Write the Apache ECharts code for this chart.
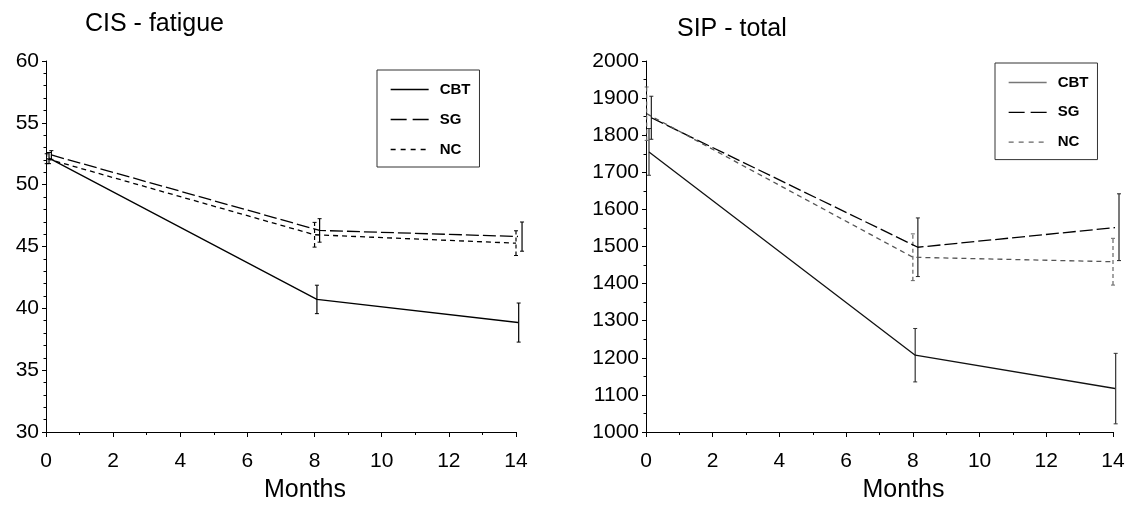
<!DOCTYPE html>
<html>
<head>
<meta charset="utf-8">
<script src="https://cdn.jsdelivr.net/npm/echarts@6/dist/echarts.min.js"></script>
<style>
  html, body { margin: 0; padding: 0; background: #fff; }
  #main { width: 1128px; height: 508px; }
</style>
</head>
<body>
<div id="main"></div>
<script>
// months of each measurement, every group drawn a little to the right of the previous one
var monthsNC = [0.02, 8.0, 14.0];
var monthsCBT = [0.09, 8.07, 14.08];
var monthsSG = [0.16, 8.15, 14.18];

var xTicks = [0, 2, 4, 6, 8, 10, 12, 14];
var cisTicks = [30, 35, 40, 45, 50, 55, 60];
var sipTicks = [1000, 1100, 1200, 1300, 1400, 1500, 1600, 1700, 1800, 1900, 2000];

// CIS - fatigue (mean, error)
var cisCBT = [52.15, 40.72, 38.85];
var cisCBTerr = [0.45, 1.15, 1.58];
var cisSG = [52.4, 46.3, 45.8];
var cisSGerr = [0.35, 0.95, 1.18];
var cisNC = [52.1, 45.95, 45.27];
var cisNCerr = [0.4, 1.0, 1.0];

// SIP - total (mean, error)
var sipCBT = [1755, 1207, 1117];
var sipCBTerr = [63, 72, 95];
var sipSG = [1847, 1498, 1552];
var sipSGerr = [58, 79, 90];
var sipNC = [1858, 1471, 1459];
var sipNCerr = [72, 63, 63];

var FONT = 'Liberation Sans';

function pts(xs, ys) {
  return xs.map(function (x, i) { return [x, ys[i]]; });
}
function bars(xs, ys, es) {
  return xs.map(function (x, i) { return [x, ys[i] - es[i], ys[i] + es[i]]; });
}

function lineSeries(name, idx, data, color, dash) {
  return {
    name: name,
    type: 'line',
    xAxisIndex: idx,
    yAxisIndex: idx,
    data: data,
    color: color,
    symbol: 'none',
    showSymbol: false,
    clip: false,
    silent: true,
    animation: false,
    lineStyle: { color: color, width: 1.3, type: dash }
  };
}

function errSeries(name, idx, data, color, dash) {
  return {
    name: name,
    type: 'custom',
    xAxisIndex: idx,
    yAxisIndex: idx,
    data: data,
    encode: { x: 0, y: [1, 2] },
    silent: true,
    animation: false,
    renderItem: function (params, api) {
      var x = api.value(0);
      var lo = api.coord([x, api.value(1)]);
      var hi = api.coord([x, api.value(2)]);
      var st = { stroke: color, lineWidth: 1.2, lineDash: dash };
      var cap = { stroke: color, lineWidth: 1 };
      return {
        type: 'group',
        children: [
          { type: 'line', shape: { x1: lo[0], y1: lo[1], x2: hi[0], y2: hi[1] }, style: st },
          { type: 'line', shape: { x1: hi[0] - 2, y1: hi[1], x2: hi[0] + 2, y2: hi[1] }, style: cap },
          { type: 'line', shape: { x1: lo[0] - 2, y1: lo[1], x2: lo[0] + 2, y2: lo[1] }, style: cap }
        ]
      };
    }
  };
}

function xAxis(idx) {
  return {
    type: 'value',
    gridIndex: idx,
    min: xTicks[0],
    max: xTicks[xTicks.length - 1],
    interval: 2,
    name: 'Months',
    nameLocation: 'middle',
    nameGap: 46,
    nameTextStyle: { fontFamily: FONT, fontSize: 25, color: '#000', padding: [0, 0, 0, 48] },
    axisLine: { show: true, onZero: false, lineStyle: { color: '#000', width: 1 } },
    axisTick: { show: true, length: 5, lineStyle: { color: '#000' } },
    minorTick: { show: true, splitNumber: 2, length: 3, lineStyle: { color: '#000' } },
    axisLabel: { fontFamily: FONT, fontSize: 21, color: '#000', margin: 19 },
    splitLine: { show: false }
  };
}

function yAxis(idx, ticks, step, minor) {
  return {
    type: 'value',
    gridIndex: idx,
    min: ticks[0],
    max: ticks[ticks.length - 1],
    interval: step,
    axisLine: { show: true, onZero: false, lineStyle: { color: '#000', width: 1 } },
    axisTick: { show: true, length: 4, lineStyle: { color: '#000' } },
    minorTick: { show: true, splitNumber: minor, length: 2.5, lineStyle: { color: '#000' } },
    axisLabel: {
      fontFamily: FONT, fontSize: 21, color: '#000', margin: 7,
      formatter: function (v) { return String(v); }
    },
    splitLine: { show: false }
  };
}

function legend(left, top, gap, cbtColor, ncColor) {
  var hidden = { color: 'rgba(0,0,0,0)', borderColor: 'rgba(0,0,0,0)', borderWidth: 0 };
  return {
    orient: 'vertical',
    left: left,
    top: top,
    padding: [12, 9, 10, 13],
    itemWidth: 38,
    itemHeight: 14,
    itemGap: gap,
    borderColor: '#333',
    borderWidth: 1,
    selectedMode: false,
    itemStyle: hidden,
    textStyle: { fontFamily: FONT, fontSize: 15, fontWeight: 'bold', color: '#000', padding: [0, 0, 0, 6] },
    data: [
      { name: 'CBT', itemStyle: hidden, lineStyle: { color: cbtColor, type: 'solid', width: 1.3, opacity: 1 } },
      { name: 'SG', itemStyle: hidden, lineStyle: { color: '#000', type: [16, 6], width: 1.3, opacity: 1 } },
      { name: 'NC', itemStyle: hidden, lineStyle: { color: ncColor, type: [5, 5], width: 1.3, opacity: 1 } }
    ]
  };
}

var chart = echarts.init(document.getElementById('main'), null, { renderer: 'canvas' });

var option = {
  backgroundColor: '#fff',
  animation: false,
  title: [
    { text: 'CIS - fatigue', left: 80, top: 7, textStyle: { fontFamily: FONT, fontSize: 25, fontWeight: 'normal', color: '#000' } },
    { text: 'SIP - total', left: 672, top: 12, textStyle: { fontFamily: FONT, fontSize: 25, fontWeight: 'normal', color: '#000' } }
  ],
  legend: [
    legend(377, 70, 15, '#000', '#000'),
    legend(995, 63, 14.8, '#777', '#666')
  ],
  grid: [
    { left: 46, top: 61, width: 470, height: 375 },
    { left: 646, top: 61, width: 467, height: 375 }
  ],
  xAxis: [xAxis(0), xAxis(1)],
  yAxis: [yAxis(0, cisTicks, 5, 5), yAxis(1, sipTicks, 100, 2)],
  series: [
    lineSeries('CBT', 0, pts(monthsCBT, cisCBT), '#000', 'solid'),
    lineSeries('SG', 0, pts(monthsSG, cisSG), '#000', [13, 4]),
    lineSeries('NC', 0, pts(monthsNC, cisNC), '#000', [5, 4]),
    errSeries('CBT err', 0, bars(monthsCBT, cisCBT, cisCBTerr), '#000', null),
    errSeries('SG err', 0, bars(monthsSG, cisSG, cisSGerr), '#000', null),
    errSeries('NC err', 0, bars(monthsNC, cisNC, cisNCerr), '#000', [4, 3]),

    lineSeries('CBT', 1, pts(monthsCBT, sipCBT), '#111', 'solid'),
    lineSeries('SG', 1, pts(monthsSG, sipSG), '#000', [13, 4]),
    lineSeries('NC', 1, pts(monthsNC, sipNC), '#555', [5, 4]),
    errSeries('CBT err', 1, bars(monthsCBT, sipCBT, sipCBTerr), '#333', null),
    errSeries('SG err', 1, bars(monthsSG, sipSG, sipSGerr), '#222', null),
    errSeries('NC err', 1, bars(monthsNC, sipNC, sipNCerr), '#666', [4, 3])
  ]
};
chart.setOption(option);
</script>
</body>
</html>
